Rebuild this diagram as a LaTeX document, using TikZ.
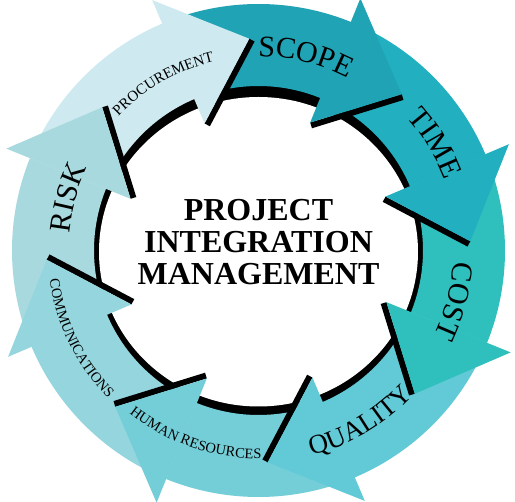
\documentclass[tikz,border=0pt]{standalone}
\usepackage{fontspec}
\setmainfont{Liberation Serif}
\usetikzlibrary{calc,decorations.text}
\definecolor{cScope}{HTML}{20A3B4}
\definecolor{cTime}{HTML}{22B0C0}
\definecolor{cCost}{HTML}{2FC0BD}
\definecolor{cQual}{HTML}{62C9D6}
\definecolor{cHR}{HTML}{74CED7}
\definecolor{cComm}{HTML}{95D5DD}
\definecolor{cRisk}{HTML}{A8D9DE}
\definecolor{cProc}{HTML}{CEEAF0}
\newcommand\biglbl{\fontsize{30}{30}\selectfont}
\newcommand\midlbl{\fontsize{27}{27}\selectfont}
\newcommand\smalllbl{\fontsize{14.5}{14.5}\selectfont}
\newcommand\proclbl{\fontsize{15}{15}\selectfont}
\begin{document}
\begin{tikzpicture}[x=1pt,y=1pt,
  ctext/.style={anchor=base,inner sep=0pt,font=\fontsize{32}{32}\selectfont\bfseries},
  arclabel/.style={decorate,decoration={text along path,text align=center,text={#1}}}]
\useasboundingbox (0,0) rectangle (515,-502);
\fill[white] (0,0) rectangle (515,-502);
\begin{scope}[shift={(258.5,-250.5)}]
  % ring shadow
  \fill[black] (0,0) circle[radius=200pt];
  \fill[white] (0,-1.25) ellipse[x radius=159.5pt, y radius=154.75pt];
  % bodies
  \foreach \n/\c in {68/cScope, 23/cTime, -22/cCost, -67/cQual, -112/cHR, -157/cComm, 158/cRisk, 113/cProc} {
    \fill[\c] (\n+45:164.5pt) arc[start angle=\n+45, end angle=\n-2, radius=164.5pt]
      -- (\n-2:246.5pt) arc[start angle=\n-2, end angle=\n+45, radius=246.5pt] -- cycle;
  }
  % heads with shadows
  \foreach \n/\c [count=\i] in {68/cScope, 23/cTime, -22/cCost, -67/cQual, -112/cHR, -157/cComm, 158/cRisk, 113/cProc} {
    \coordinate (ib\i) at (\n:138pt);
    \coordinate (tp\i) at (\n-20.5:212pt);
    \coordinate (ob\i) at (\n:272pt);
    \coordinate (sa\i) at ($(ib\i)!6pt!-90:(tp\i)$);
    \coordinate (sb\i) at ($(tp\i)!6pt!90:(ib\i)$);
    \fill[black] (ib\i) -- (tp\i) -- (sb\i) -- (sa\i) -- cycle;
    \fill[\c] (ib\i) -- (tp\i) -- (ob\i) -- cycle;
  }
  % labels
  \path[arclabel={|\biglbl|SCOPE}] (111.3:194pt) arc[start angle=111.3, end angle=41.3, radius=194pt];
  \path[arclabel={|\biglbl|TIME}] (66.3:199pt) arc[start angle=66.3, end angle=-3.7, radius=199pt];
  \path[arclabel={|\biglbl|COST}] (20.5:195pt) arc[start angle=20.5, end angle=-49.5, radius=195pt];
  \path[arclabel={|\biglbl|RISK}] (199.5:190pt) arc[start angle=199.5, end angle=129.5, radius=190pt];
  \path[arclabel={|\proclbl|PROCUREMENT}] (164.7:194pt) arc[start angle=164.7, end angle=74.7, radius=194pt];
  \path[arclabel={|\midlbl|QUALITY}] (-99.3:212pt) arc[start angle=-99.3, end angle=-19.3, radius=212pt];
  \path[arclabel={|\smalllbl|HUMAN RESOURCES}] (196.2:208pt) arc[start angle=196.2, end angle=306.2, radius=208pt];
  \path[arclabel={|\smalllbl|COMMUNICATIONS}] (151.3:211pt) arc[start angle=151.3, end angle=261.3, radius=211pt];
\end{scope}
\node[ctext] (t1) at (258.5,-221) {PROJECT};
\node[ctext] (t2) at (258.5,-253) {INTEGRATION};
\node[ctext] (t3) at (258.5,-285) {MANAGEMENT};
\end{tikzpicture}
\end{document}
